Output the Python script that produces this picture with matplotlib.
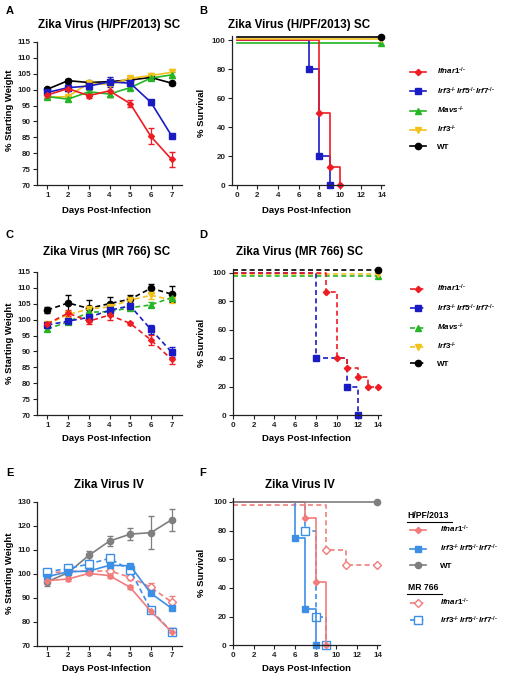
import matplotlib
matplotlib.use("Agg")
import matplotlib.pyplot as plt
from matplotlib.lines import Line2D
from matplotlib.transforms import offset_copy

plt.rcParams["font.family"] = ["Liberation Sans", "DejaVu Sans"]
plt.rcParams["font.weight"] = "bold"
plt.rcParams["mathtext.fontset"] = "custom"
plt.rcParams["mathtext.it"] = "Liberation Sans:italic:bold"
plt.rcParams["mathtext.rm"] = "Liberation Sans:bold"
plt.rcParams["mathtext.bf"] = "Liberation Sans:bold"

# ---- data ----
days = [1, 2, 3, 4, 5, 6, 7]

# A: H/PF/2013 SC weights
a_ifnar = [98.3, 100.3, 98.1, 99.6, 95.6, 85.3, 78.1]
a_ifnar_err = [0.8, 2.3, 0.8, 2.0, 1.2, 2.5, 2.3]
a_tko = [99.1, 100.6, 101.1, 102.4, 102.0, 96.0, 85.5]
a_tko_err = [0.6, 1.0, 0.8, 1.5, 0.8, 0.8, 0.6]
a_mavs = [97.8, 97.0, 99.3, 98.6, 100.6, 103.6, 104.6]
a_mavs_err = [0.5, 0.6, 0.5, 1.0, 0.5, 0.7, 1.0]
a_irf3 = [97.6, 97.8, 102.0, 101.6, 103.5, 104.4, 105.4]
a_irf3_err = [0.5, 0.5, 0.5, 0.5, 0.7, 0.8, 1.0]
a_wt = [100.1, 102.8, 102.2, 102.5, 103.0, 103.8, 102.0]
a_wt_err = [0.5, 0.5, 0.5, 0.5, 0.5, 0.5, 0.5]

# B: H/PF/2013 SC survival
b_ifnar_t, b_ifnar_s = [0, 8, 9, 10], [100, 50, 12.5, 0]
b_tko_t, b_tko_s = [0, 7, 8, 9], [100, 80, 20, 0]
b_flat_t, b_flat_s = [0, 14], [100, 100]

# C: MR 766 SC weights
c_ifnar = [98.7, 102.0, 99.5, 101.4, 98.8, 93.6, 87.5]
c_ifnar_err = [0.5, 1.0, 0.8, 1.5, 0.5, 1.5, 1.5]
c_tko = [98.3, 99.5, 100.7, 102.9, 104.3, 96.9, 89.8]
c_tko_err = [0.6, 0.8, 1.0, 1.0, 1.0, 1.5, 1.5]
c_mavs = [97.0, 99.3, 102.3, 102.5, 103.7, 104.6, 106.9]
c_mavs_err = [0.6, 0.6, 0.6, 0.6, 0.6, 0.8, 0.8]
c_irf3 = [98.5, 101.6, 103.3, 104.0, 106.1, 107.6, 106.2]
c_irf3_err = [0.5, 0.8, 0.8, 0.8, 0.8, 1.0, 1.0]
c_wt = [103.0, 105.2, 103.5, 105.0, 106.4, 109.8, 108.0]
c_wt_err = [1.0, 2.5, 2.5, 2.0, 1.2, 1.5, 2.5]

# D: MR 766 SC survival
d_ifnar_t, d_ifnar_s = [0, 9, 10, 11, 12, 13, 14], [100, 86.7, 40, 33.3, 26.7, 20, 20]
d_tko_t, d_tko_s = [0, 8, 11, 12], [100, 40, 20, 0]

# E: IV weights
e_hpf_ifnar = [97.1, 97.8, 100.1, 99.2, 94.3, 84.3, 75.8]
e_hpf_ifnar_err = [0.8, 0.8, 0.8, 0.8, 0.8, 0.8, 1.5]
e_hpf_tko = [98.8, 100.8, 101.1, 103.5, 103.3, 91.8, 85.6]
e_hpf_tko_err = [0.8, 0.8, 0.8, 0.8, 0.8, 0.8, 0.8]
e_wt = [96.7, 100.4, 107.6, 113.6, 116.5, 117.1, 122.5]
e_wt_err = [2.0, 1.0, 2.0, 2.0, 2.5, 7.0, 4.5]
e_mr_ifnar = [100.3, 101.0, 101.0, 101.2, 98.5, 94.3, 88.2]
e_mr_ifnar_err = [0.8, 0.8, 0.8, 0.8, 1.0, 2.0, 2.5]
e_mr_tko = [100.8, 102.2, 104.0, 106.4, 101.5, 84.9, 75.8]
e_mr_tko_err = [0.8, 0.8, 0.8, 0.8, 0.8, 1.0, 1.5]

# F: IV survival
f_hpf_ifnar_t, f_hpf_ifnar_s = [0, 7, 8, 9], [100, 88.9, 44.4, 0]
f_hpf_tko_t, f_hpf_tko_s = [0, 6, 7, 8], [100, 75, 25, 0]
f_mr_ifnar_t, f_mr_ifnar_s = [0, 9, 11, 14], [100, 68, 58, 58]
f_mr_tko_t, f_mr_tko_s = [0, 7, 8, 9], [100, 80, 20, 0]

# ---- styles ----
RED, BLUE, GREEN, YELLOW, BLACK = "#ee1d23", "#1b1bc4", "#25b525", "#f2c21b", "#000000"
SALMON, LBLUE, GRAY = "#f27b7b", "#3d8fe6", "#7f7f7f"

SUP = r"^{\text{-/-}}"
L_IFNAR = r"$\mathit{Ifnar1}" + SUP + "$"
L_TKO = r"$\mathit{Irf3}" + SUP + r"\,\mathit{Irf5}" + SUP + r"\,\mathit{Irf7}" + SUP + "$"
L_MAVS = r"$\mathit{Mavs}" + SUP + "$"
L_IRF3 = r"$\mathit{Irf3}" + SUP + "$"

W, H = 512, 679
fig = plt.figure(figsize=(W / 100, H / 100), dpi=100)


def px_axes(left, top, right, bottom):
    return fig.add_axes([left / W, 1 - bottom / H, (right - left) / W, (bottom - top) / H])


def px_text(x, y, s, **kw):
    fig.text(x / W, 1 - y / H, s, **kw)


def style(ax):
    for side in ("top", "right"):
        ax.spines[side].set_visible(False)
    for side in ("left", "bottom"):
        ax.spines[side].set_linewidth(0.9)
        ax.spines[side].set_color("#222222")
    ax.tick_params(length=3, width=0.8, labelsize=5.8, pad=1.5, colors="#222222")


def weight(ax, y, err, color, marker, ms, ls="-", mfc=None):
    ax.errorbar(days, y, yerr=err, color=color, marker=marker, ms=ms, lw=1.2, ls=ls,
                mfc=mfc if mfc else color, mec=color, mew=1.0,
                capsize=2.5, elinewidth=0.9, capthick=0.9, dashes=(3, 2) if ls == "--" else (None, None))


def surv(ax, t, s, color, marker, ms, ls="-", dy=0.0, mfc=None):
    tr = offset_copy(ax.transData, fig=fig, x=0, y=dy, units="points")
    line, = ax.step(t, s, where="post", color=color, lw=1.2, ls=ls, transform=tr, clip_on=False)
    if ls == "--":
        line.set_dashes((3, 2))
    ax.plot(t[1:], s[1:], ls="none", marker=marker, ms=ms, color=color,
            mfc=mfc if mfc else color, mec=color, mew=1.0, transform=tr, clip_on=False)


def weight_axes(ax, ymax, ystep):
    style(ax)
    ax.set_xlim(0.5, 7.5)
    ax.set_ylim(70, ymax)
    ax.set_xticks(days)
    ax.set_yticks(range(70, ymax + 1, ystep))


def surv_axes(ax, x0):
    style(ax)
    ax.set_xlim(x0, 14.2)
    ax.set_ylim(0, 103)
    ax.set_xticks(range(0, 15, 2))
    ax.set_yticks(range(0, 101, 20))


def legend(ax, handles, labels, x, y, spacing=1.0, pad=1.4):
    return ax.legend(handles, labels, loc="upper left", bbox_to_anchor=(x / W, 1 - y / H),
                     bbox_transform=fig.transFigure, frameon=False, fontsize=5.8,
                     handlelength=2.0, labelspacing=spacing, handletextpad=pad, borderpad=0)


# ---- A ----
axA = px_axes(37, 41.7, 182, 185.3)
weight_axes(axA, 115, 5)
weight(axA, a_wt, a_wt_err, BLACK, "o", 4.5)
weight(axA, a_irf3, a_irf3_err, YELLOW, "v", 4.5)
weight(axA, a_mavs, a_mavs_err, GREEN, "^", 4.5)
weight(axA, a_tko, a_tko_err, BLUE, "s", 4.5)
weight(axA, a_ifnar, a_ifnar_err, RED, "D", 3.0)

# ---- B ----
axB = px_axes(231.7, 35.7, 383.5, 185.3)
surv_axes(axB, -0.47)
surv(axB, b_flat_t, b_flat_s, GREEN, "^", 4.5, dy=-2.0)
surv(axB, b_tko_t, b_tko_s, BLUE, "s", 5)
surv(axB, b_ifnar_t, b_ifnar_s, RED, "D", 3.2)
surv(axB, b_flat_t, b_flat_s, YELLOW, "v", 4.5, dy=0.6)
surv(axB, b_flat_t, b_flat_s, BLACK, "o", 4.5, dy=1.9)

solid = dict(lw=1.2)
hB = [Line2D([], [], color=RED, marker="D", ms=3.2, **solid),
      Line2D([], [], color=BLUE, marker="s", ms=5, **solid),
      Line2D([], [], color=GREEN, marker="^", ms=4.5, **solid),
      Line2D([], [], color=YELLOW, marker="v", ms=4.5, **solid),
      Line2D([], [], color=BLACK, marker="o", ms=4.5, **solid)]
legend(axB, hB, [L_IFNAR, L_TKO, L_MAVS, L_IRF3, "WT"], 406, 62)

# ---- C ----
axC = px_axes(37, 271.7, 182, 415.3)
weight_axes(axC, 115, 5)
weight(axC, c_wt, c_wt_err, BLACK, "o", 4.5, ls="--")
weight(axC, c_irf3, c_irf3_err, YELLOW, "v", 4.5, ls="--")
weight(axC, c_mavs, c_mavs_err, GREEN, "^", 4.5, ls="--")
weight(axC, c_tko, c_tko_err, BLUE, "s", 4.5, ls="--")
weight(axC, c_ifnar, c_ifnar_err, RED, "D", 3.0, ls="--")

# ---- D ----
axD = px_axes(232.7, 268.5, 380.5, 415.3)
surv_axes(axD, 0)
surv(axD, b_flat_t, b_flat_s, GREEN, "^", 4.5, ls="--", dy=-2.2)
surv(axD, b_flat_t, b_flat_s, YELLOW, "v", 4.5, ls="--", dy=-1.0)
surv(axD, d_tko_t, d_tko_s, BLUE, "s", 5, ls="--")
surv(axD, d_ifnar_t, d_ifnar_s, RED, "D", 3.2, ls="--")
surv(axD, b_flat_t, b_flat_s, BLACK, "o", 4.5, ls="--", dy=2.2)

dash = dict(lw=1.2, ls=(0, (3, 2)))
hD = [Line2D([], [], color=RED, marker="D", ms=3.2, **dash),
      Line2D([], [], color=BLUE, marker="s", ms=5, **dash),
      Line2D([], [], color=GREEN, marker="^", ms=4.5, **dash),
      Line2D([], [], color=YELLOW, marker="v", ms=4.5, **dash),
      Line2D([], [], color=BLACK, marker="o", ms=4.5, **dash)]
legend(axD, hD, [L_IFNAR, L_TKO, L_MAVS, L_IRF3, "WT"], 406, 279)

# ---- E ----
axE = px_axes(37, 501.7, 182, 645.7)
weight_axes(axE, 130, 10)
weight(axE, e_wt, e_wt_err, GRAY, "o", 4.5)
weight(axE, e_mr_ifnar, e_mr_ifnar_err, SALMON, "D", 4.0, ls="--", mfc="white")
weight(axE, e_mr_tko, e_mr_tko_err, LBLUE, "s", 5.5, ls="--", mfc="white")
weight(axE, e_hpf_tko, e_hpf_tko_err, LBLUE, "s", 4.5)
weight(axE, e_hpf_ifnar, e_hpf_ifnar_err, SALMON, "D", 3.0)

# ---- F ----
axF = px_axes(233, 497.7, 379.5, 645.3)
surv_axes(axF, 0)
surv(axF, f_mr_ifnar_t, f_mr_ifnar_s, SALMON, "D", 4.0, ls="--", dy=-1.9, mfc="white")
surv(axF, f_mr_tko_t, f_mr_tko_s, LBLUE, "s", 5.5, ls="--", mfc="white")
surv(axF, f_hpf_tko_t, f_hpf_tko_s, LBLUE, "s", 4.5)
surv(axF, f_hpf_ifnar_t, f_hpf_ifnar_s, SALMON, "D", 3.2)
surv(axF, b_flat_t, b_flat_s, GRAY, "o", 4.5)

hF1 = [Line2D([], [], color=SALMON, marker="D", ms=3.2, **solid),
       Line2D([], [], color=LBLUE, marker="s", ms=4.5, **solid),
       Line2D([], [], color=GRAY, marker="o", ms=4.5, **solid)]
hF2 = [Line2D([], [], color=SALMON, marker="D", ms=4.0, mfc="white", **dash),
       Line2D([], [], color=LBLUE, marker="s", ms=5.5, mfc="white", **dash)]
legF = legend(axF, hF1, [L_IFNAR, L_TKO, "WT"], 406, 520, spacing=0.95, pad=1.7)
axF.add_artist(legF)
legend(axF, hF2, [L_IFNAR, L_TKO], 406, 593, spacing=0.75, pad=1.7)
px_text(407, 516, "H/PF/2013", fontsize=6.2, fontweight="bold", va="center")
px_text(408, 588, "MR 766", fontsize=6.2, fontweight="bold", va="center")
fig.add_artist(Line2D([407 / W, 452 / W], [1 - 521.5 / H, 1 - 521.5 / H], color="black", lw=0.8))
fig.add_artist(Line2D([407 / W, 442 / W], [1 - 593.5 / H, 1 - 593.5 / H], color="black", lw=0.8))

# ---- titles, labels ----
tkw = dict(fontsize=8.4, fontweight="bold", ha="center", va="center")
px_text(109.5, 25, "Zika Virus (H/PF/2013) SC", **tkw)
px_text(299, 25, "Zika Virus (H/PF/2013) SC", **tkw)
px_text(107, 252, "Zika Virus (MR 766) SC", **tkw)
px_text(300, 252, "Zika Virus (MR 766) SC", **tkw)
px_text(109, 485, "Zika Virus IV", **tkw)
px_text(300, 485, "Zika Virus IV", **tkw)

pkw = dict(fontsize=8, fontweight="bold", ha="left", va="center")
for x, y, s in [(6, 11, "A"), (199, 11, "B"), (6, 235, "C"), (199, 235, "D"), (6, 473, "E"), (199, 473, "F")]:
    px_text(x, y, s, **pkw)

xkw = dict(fontsize=6.8, fontweight="bold", ha="center", va="center")
ykw = dict(fontsize=6.8, fontweight="bold", ha="center", va="center", rotation=90)
for row_y, ymid_w, ymid_s in [(210.5, 110, 113), (438.5, 343, 343), (668.5, 573, 573)]:
    px_text(106, row_y, "Days Post-Infection", **xkw)
    px_text(307, row_y, "Days Post-Infection", **xkw)
    px_text(10, ymid_w, "% Starting Weight", **ykw)
    px_text(202, ymid_s, "% Survival", **ykw)

fig.savefig("out.png", dpi=100)
